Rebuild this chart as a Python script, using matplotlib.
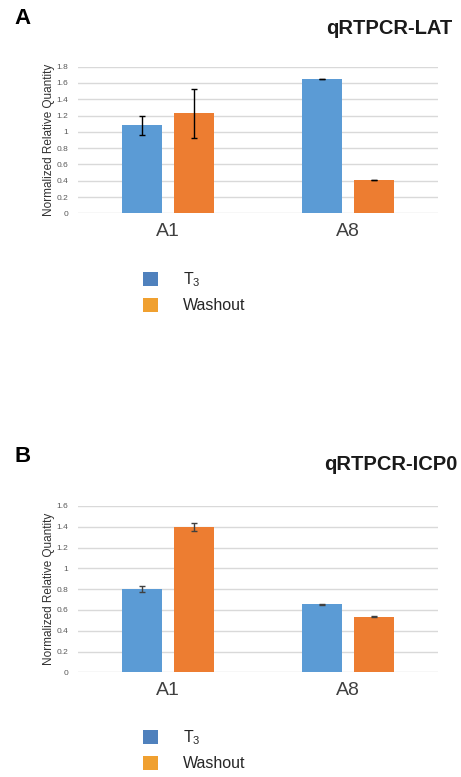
import matplotlib
matplotlib.use('Agg')
import matplotlib.pyplot as plt
import numpy as np
from matplotlib.patches import Patch

plt.rcParams['font.family'] = ['Liberation Sans', 'DejaVu Sans']
plt.rcParams['mathtext.default'] = 'regular'

categories = ['A1', 'A8']
series_names = ['T$_3$', 'Washout']

# qRTPCR-LAT
lat_t3 = [1.08, 1.65]
lat_t3_err = [0.12, 0.005]
lat_wash = [1.23, 0.41]
lat_wash_err = [0.30, 0.005]

# qRTPCR-ICP0
icp0_t3 = [0.80, 0.655]
icp0_t3_err = [0.03, 0.003]
icp0_wash = [1.40, 0.535]
icp0_wash_err = [0.04, 0.003]

BLUE = '#5B9BD5'
ORANGE = '#ED7D31'
LEG_BLUE = '#4F81BD'
LEG_ORANGE = '#F0A030'
GRID = '#D9D9D9'

W, H = 461, 777
fig = plt.figure(figsize=(W / 100, H / 100), dpi=100)


def fx(px):
    return px / W


def fy(py):
    return 1 - py / H


def draw_panel(top_px, bottom_px, ymax, t3, t3_err, wash, wash_err, letter, title, letter_y, title_y, title_right, ecolor):
    ax = fig.add_axes([fx(78), fy(bottom_px), fx(438) - fx(78), fy(top_px) - fy(bottom_px)])
    x = np.arange(len(categories))
    w = 0.222
    off = 0.143
    ax.bar(x - off, t3, w, color=BLUE, zorder=2)
    ax.bar(x + off, wash, w, color=ORANGE, zorder=2)
    ax.errorbar(x - off, t3, yerr=t3_err, fmt='none', ecolor=ecolor, elinewidth=1, capsize=2.5, capthick=1, zorder=3)
    ax.errorbar(x + off, wash, yerr=wash_err, fmt='none', ecolor=ecolor, elinewidth=1, capsize=2.5, capthick=1, zorder=3)

    ax.set_xlim(-0.5, 1.5)
    ax.set_ylim(0, ymax)
    ticks = np.arange(0, ymax + 0.001, 0.2)
    ax.set_yticks(ticks)
    ax.set_yticklabels(['0' if t == 0 else ('1' if abs(t - 1) < 1e-9 else f'{t:.1f}') for t in ticks])
    ax.yaxis.grid(True, color=GRID, linewidth=1, zorder=0)
    ax.set_axisbelow(True)
    for s in ax.spines.values():
        s.set_visible(False)
    ax.tick_params(axis='y', length=0, labelsize=6, labelcolor='#595959', pad=7)
    ax.set_xticks(x)
    ax.set_xticklabels(categories)
    ax.tick_params(axis='x', length=0, labelsize=14, labelcolor='#404040', pad=7)
    ax.set_ylabel('Normalized Relative Quantity', fontsize=8.5, color='#333333', labelpad=1)

    fig.text(fx(14), fy(letter_y), letter, fontsize=16, fontweight='bold', va='center', ha='left')
    fig.text(fx(title_right), fy(title_y), title, fontsize=14.5, fontweight='bold', va='center', ha='right', color='#1a1a1a')
    return ax


draw_panel(66.7, 213.3, 1.8, lat_t3, lat_t3_err, lat_wash, lat_wash_err, 'A', 'qRTPCR-LAT', 19, 29, 452, 'black')
draw_panel(506, 672.3, 1.6, icp0_t3, icp0_t3_err, icp0_wash, icp0_wash_err, 'B', 'qRTPCR-ICP0', 457, 464, 457, '#404040')


def add_legend(top_px):
    handles = [Patch(facecolor=LEG_BLUE, edgecolor='none'), Patch(facecolor=LEG_ORANGE, edgecolor='none')]
    fig.legend(handles, series_names, loc='upper left', bbox_to_anchor=(fx(143), fy(top_px)),
               frameon=False, fontsize=11.5, handlelength=0.95, handleheight=0.95, handletextpad=1.55,
               labelspacing=0.55, borderpad=0, borderaxespad=0, labelcolor='#262626')


add_legend(270.5)
add_legend(728.5)

fig.savefig('out.png', dpi=100)
